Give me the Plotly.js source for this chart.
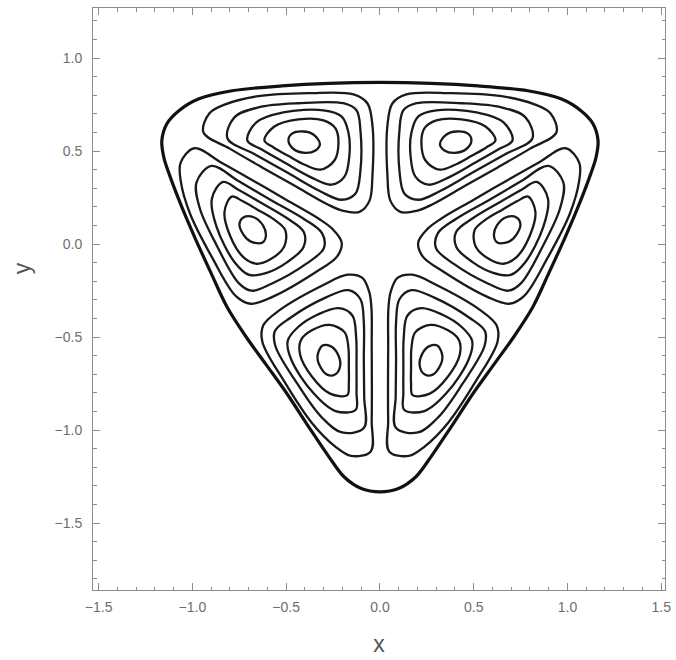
<!DOCTYPE html>
<html><head><meta charset="utf-8">
<script src="https://cdn.plot.ly/plotly-3.0.1.min.js"></script>
<style>html,body{margin:0;padding:0;background:#fff}#chart{width:676px;height:660px}</style>
</head><body><div id="chart"></div>
<script>
// Outer (thick) boundary curve
const boundaryX = [0,-0.272,-0.523,-0.789,-0.965,-1.072,-1.136,-1.163,-1.152,-1.125,-1.056,-0.981,-0.901,-0.816,-0.715,-0.608,-0.501,-0.379,-0.272,-0.192,-0.096,0,
  0.096,0.192,0.272,0.379,0.501,0.608,0.715,0.816,0.901,0.981,1.056,1.125,1.152,1.163,1.136,1.072,0.965,0.789,0.523,0.272];
const boundaryY = [0.869,0.864,0.850,0.824,0.781,0.717,0.647,0.556,0.465,0.380,0.198,0.021,-0.155,-0.337,-0.497,-0.647,-0.797,-0.984,-1.144,-1.251,-1.316,-1.332,
  -1.316,-1.251,-1.144,-0.984,-0.797,-0.647,-0.497,-0.337,-0.155,0.021,0.198,0.380,0.465,0.556,0.647,0.717,0.781,0.824,0.850,0.864];

// Top-left island, contours from innermost (1) to outermost (5)
const tlX = [
  [-0.320,-0.355,-0.408,-0.467,-0.488,-0.461,-0.397,-0.344],
  [-0.616,-0.563,-0.435,-0.301,-0.237,-0.221,-0.243,-0.317,-0.401,-0.489,-0.567],
  [-0.707,-0.659,-0.515,-0.301,-0.205,-0.168,-0.163,-0.189,-0.259,-0.370,-0.509,-0.630],
  [-0.813,-0.776,-0.648,-0.435,-0.195,-0.125,-0.104,-0.104,-0.131,-0.205,-0.321,-0.494,-0.668],
  [-0.941,-0.909,-0.824,-0.648,-0.381,-0.141,-0.067,-0.040,-0.040,-0.056,-0.109,-0.195,-0.281,-0.454,-0.628,-0.801]
];
const tlY = [
  [0.538,0.589,0.605,0.595,0.559,0.511,0.490,0.503],
  [0.557,0.632,0.670,0.665,0.622,0.546,0.449,0.400,0.426,0.474,0.519],
  [0.557,0.654,0.708,0.719,0.686,0.600,0.476,0.362,0.319,0.360,0.438,0.508],
  [0.568,0.681,0.735,0.757,0.757,0.719,0.611,0.395,0.270,0.238,0.285,0.384,0.483],
  [0.600,0.703,0.751,0.795,0.811,0.805,0.757,0.638,0.368,0.232,0.173,0.178,0.214,0.313,0.412,0.513]
];
// Top-right island
const trX = [
  [0.320,0.355,0.408,0.467,0.488,0.461,0.397,0.344],
  [0.616,0.563,0.435,0.301,0.237,0.221,0.243,0.317,0.401,0.489,0.567],
  [0.707,0.659,0.515,0.301,0.205,0.168,0.163,0.189,0.259,0.370,0.509,0.630],
  [0.813,0.776,0.648,0.435,0.195,0.125,0.104,0.104,0.131,0.205,0.321,0.494,0.668],
  [0.941,0.909,0.824,0.648,0.381,0.141,0.067,0.040,0.040,0.056,0.109,0.195,0.281,0.454,0.628,0.801]
];
const trY = tlY;
// Left-middle island
const lmX = [
  [-0.626,-0.688,-0.728,-0.749,-0.728,-0.673,-0.623,-0.608],
  [-0.790,-0.829,-0.798,-0.727,-0.658,-0.584,-0.511,-0.505,-0.569,-0.655,-0.733],
  [-0.836,-0.896,-0.871,-0.774,-0.697,-0.604,-0.494,-0.408,-0.406,-0.497,-0.634,-0.755],
  [-0.898,-0.978,-0.961,-0.873,-0.753,-0.685,-0.581,-0.394,-0.299,-0.309,-0.407,-0.580,-0.752],
  [-0.990,-1.063,-1.062,-1.013,-0.893,-0.768,-0.689,-0.573,-0.339,-0.229,-0.204,-0.252,-0.326,-0.498,-0.671,-0.845]
];
const lmY = [
  [0.008,0.013,0.051,0.107,0.143,0.144,0.099,0.046],
  [0.255,0.172,0.042,-0.072,-0.106,-0.082,-0.015,0.075,0.135,0.186,0.231],
  [0.334,0.244,0.092,-0.099,-0.166,-0.155,-0.097,-0.017,0.065,0.140,0.222,0.292],
  [0.420,0.332,0.194,-0.002,-0.210,-0.251,-0.215,-0.107,-0.022,0.059,0.136,0.236,0.337],
  [0.515,0.436,0.338,0.164,-0.076,-0.280,-0.321,-0.284,-0.149,-0.068,0.008,0.080,0.136,0.237,0.338,0.437]
];
// Right-middle island
const rmX = [
  [0.626,0.688,0.728,0.749,0.728,0.673,0.623,0.608],
  [0.790,0.829,0.798,0.727,0.658,0.584,0.511,0.505,0.569,0.655,0.733],
  [0.836,0.896,0.871,0.774,0.697,0.604,0.494,0.408,0.406,0.497,0.634,0.755],
  [0.898,0.978,0.961,0.873,0.753,0.685,0.581,0.394,0.299,0.309,0.407,0.580,0.752],
  [0.990,1.063,1.062,1.013,0.893,0.768,0.689,0.573,0.339,0.229,0.204,0.252,0.326,0.498,0.671,0.845]
];
const rmY = lmY;
// Bottom-left island
const blX = [
  [-0.306,-0.333,-0.320,-0.282,-0.240,-0.212,-0.226,-0.264],
  [-0.174,-0.266,-0.363,-0.426,-0.421,-0.363,-0.268,-0.188,-0.168,-0.166,-0.166],
  [-0.129,-0.237,-0.356,-0.473,-0.492,-0.436,-0.331,-0.219,-0.147,-0.127,-0.125,-0.125],
  [-0.085,-0.202,-0.313,-0.438,-0.558,-0.560,-0.477,-0.290,-0.168,-0.104,-0.086,-0.086,-0.084],
  [-0.049,-0.154,-0.238,-0.365,-0.512,-0.627,-0.622,-0.533,-0.299,-0.173,-0.095,-0.057,-0.045,-0.044,-0.043,-0.044]
];
const blY = [
  [-0.546,-0.602,-0.656,-0.702,-0.702,-0.655,-0.589,-0.549],
  [-0.812,-0.804,-0.712,-0.594,-0.516,-0.464,-0.435,-0.475,-0.560,-0.660,-0.750],
  [-0.891,-0.898,-0.800,-0.621,-0.521,-0.446,-0.379,-0.345,-0.384,-0.500,-0.660,-0.800],
  [-0.988,-1.013,-0.929,-0.755,-0.547,-0.468,-0.396,-0.288,-0.248,-0.297,-0.420,-0.620,-0.820],
  [-1.115,-1.139,-1.089,-0.959,-0.736,-0.525,-0.437,-0.354,-0.219,-0.165,-0.181,-0.258,-0.350,-0.550,-0.750,-0.950]
];
// Bottom-right island
const brX = [
  [0.306,0.333,0.320,0.282,0.240,0.212,0.226,0.264],
  [0.174,0.266,0.363,0.426,0.421,0.363,0.268,0.188,0.168,0.166,0.166],
  [0.129,0.237,0.356,0.473,0.492,0.436,0.331,0.219,0.147,0.127,0.125,0.125],
  [0.085,0.202,0.313,0.438,0.558,0.560,0.477,0.290,0.168,0.104,0.086,0.086,0.084],
  [0.049,0.154,0.238,0.365,0.512,0.627,0.622,0.533,0.299,0.173,0.095,0.057,0.045,0.044,0.043,0.044]
];
const brY = blY;

const tickVals = [-1.5,-1.0,-0.5,0.0,0.5,1.0,1.5];
const xTitle = 'x';
const yTitle = 'y';

function closeLoop(a){ return a.concat([a[0]]); }

const traces = [];
const islandX = [tlX, trX, lmX, rmX, blX, brX];
const islandY = [tlY, trY, lmY, rmY, blY, brY];
islandX.forEach(function(ix, k){
  ix.forEach(function(cx, j){
    traces.push({
      type:'scatter', mode:'lines',
      x: closeLoop(cx), y: closeLoop(islandY[k][j]),
      line:{color:'#1a1a1a', width:2.3, shape:'spline', smoothing:1},
      hoverinfo:'skip', showlegend:false
    });
  });
});
traces.push({
  type:'scatter', mode:'lines',
  x: closeLoop(boundaryX), y: closeLoop(boundaryY),
  line:{color:'#111', width:3.2, shape:'spline', smoothing:0.9},
  hoverinfo:'skip', showlegend:false
});

const labelFont = 'Liberation Sans, Arial, sans-serif';
const axisCommon = {
  tickmode:'array', tickvals: tickVals, ticktext: tickVals.map(v => v.toFixed(1).replace('-', '\u2212')),
  ticks:'inside', ticklen:7, tickwidth:1, tickcolor:'#8c8c8c',
  showline:true, linecolor:'#8c8c8c', linewidth:1, mirror:'allticks',
  showgrid:false, zeroline:false, fixedrange:true,
  minor:{tickmode:'linear', tick0:0, dtick:0.1, ticks:'inside', ticklen:3.5, tickwidth:1, tickcolor:'#8c8c8c'},
  tickfont:{family:labelFont, size:14, color:'#6e6e6e'}
};

const layout = {
  width:676, height:660,
  margin:{l:93, r:11, t:8, b:70},
  paper_bgcolor:'#fff', plot_bgcolor:'#fff',
  showlegend:false,
  xaxis: Object.assign({}, axisCommon, {
    range:[-1.53, 1.52], ticklabelstandoff:4,
    title:{text:xTitle, font:{family:labelFont, size:23, color:'#555'}, standoff:22}
  }),
  yaxis: Object.assign({}, axisCommon, {
    range:[-1.86, 1.269], ticklabelstandoff:7
  }),
  annotations:[{
    text:yTitle, xref:'paper', yref:'paper', x:-0.124, y:0.553,
    xanchor:'center', yanchor:'middle', textangle:-90, showarrow:false,
    font:{family:labelFont, size:23, color:'#555'}
  }]
};

Plotly.newPlot('chart', traces, layout, {displayModeBar:false, staticPlot:true});
</script>
</body></html>
